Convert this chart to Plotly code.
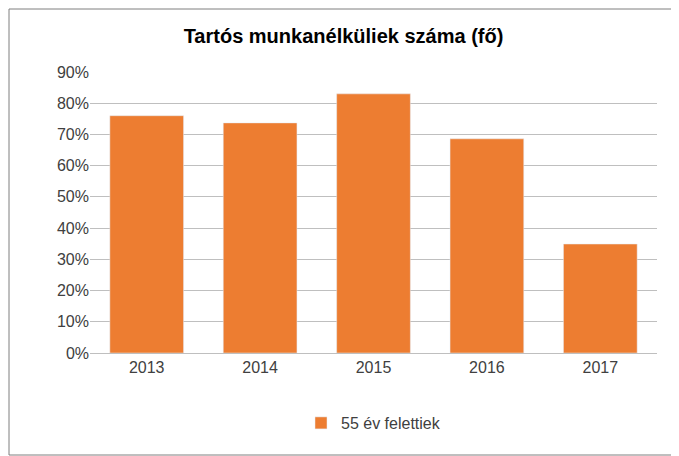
import plotly.graph_objects as go

years = ["2013", "2014", "2015", "2016", "2017"]
share = [0.76, 0.737, 0.83, 0.686, 0.349]
series_name = "55 év felettiek"
y_ticks = [0, 0.1, 0.2, 0.3, 0.4, 0.5, 0.6, 0.7, 0.8, 0.9]

# page adds an 8px body margin, so the figure is sized to fit the window
W, H = 671, 448
L, R, T, B = 82, 22, 64, 103
pw, ph = W - L - R, H - T - B

fig = go.Figure(go.Bar(
    x=years,
    y=share,
    name=series_name,
    marker_color="#ED7D31",
    showlegend=True,
))

fig.update_layout(
    width=W,
    height=H,
    paper_bgcolor="white",
    plot_bgcolor="white",
    margin=dict(t=T, b=B, l=L, r=R),
    bargap=0.35,
    font=dict(family="Liberation Sans, Arial", size=16, color="#404040"),
    title=dict(
        text="<b>Tartós munkanélküliek száma (fő)</b>",
        x=0.5, xanchor="center", y=1 - 28 / H, yanchor="middle",
        font=dict(size=20, color="black"),
    ),
    legend=dict(
        orientation="h", x=0.5, xanchor="center", y=-70 / ph, yanchor="middle",
        font=dict(size=16, color="#404040"),
    ),
    xaxis=dict(showline=True, linecolor="#BFBFBF", ticks="", tickfont=dict(size=16)),
    yaxis=dict(
        range=[0, 0.9],
        tickvals=y_ticks,
        tickformat=".0%",
        showgrid=True,
        gridcolor="#BFBFBF",
        zeroline=False,
        tickfont=dict(size=16),
        ticksuffix=" ",
    ),
    shapes=[dict(
        type="rect", xref="paper", yref="paper",
        x0=-(L - 1) / pw, x1=1 + (R - 1) / pw,
        y0=-(B - 1) / ph, y1=1 + (T - 1) / ph,
        line=dict(color="#7F7F7F", width=1),
    )],
)

fig.write_html("out.html")
